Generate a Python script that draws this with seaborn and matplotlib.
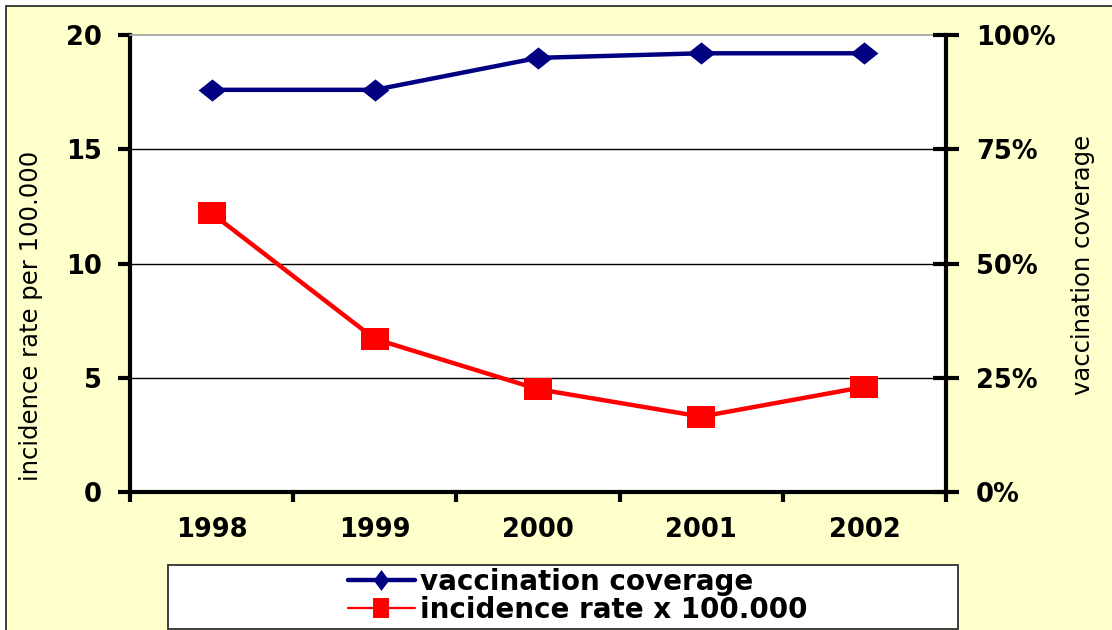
import numpy as np
import pandas as pd
import seaborn as sns
import matplotlib.pyplot as plt
from matplotlib.path import Path
from matplotlib.lines import Line2D
from matplotlib.patches import Rectangle
from matplotlib.ticker import PercentFormatter

# data
years = ["1998", "1999", "2000", "2001", "2002"]
incidence = [12.2, 6.7, 4.5, 3.3, 4.6]       # per 100.000
coverage = [88, 88, 95, 96, 96]               # percent

sns.set_theme(style="white")
plt.rcParams["font.family"] = ["DejaVu Sans"]
plt.rcParams["text.color"] = "black"
plt.rcParams["xtick.color"] = "black"
plt.rcParams["ytick.color"] = "black"

W, H = 1112, 630
fig = plt.figure(figsize=(W / 100, H / 100), dpi=100, facecolor="white")

# pale yellow chart area with thin dark frame
fig.patches.append(Rectangle((6 / W, -0.2), 2.0, 1 - 6 / H + 0.2,
                             transform=fig.transFigure, facecolor="#FFFFCC",
                             edgecolor="#202020", lw=1.2, zorder=-5))

ax = fig.add_axes([130 / W, 1 - 492 / H, 816 / W, 457 / H])
ax.set_facecolor("white")

df = pd.DataFrame({"pos": np.arange(len(years)), "year": years,
                   "incidence": incidence, "coverage": coverage})

closed = [Path.MOVETO, Path.LINETO, Path.LINETO, Path.LINETO, Path.CLOSEPOLY]
diamond = Path([(-1, 0), (0, 0.8), (1, 0), (0, -0.8), (-1, 0)], closed)
square = Path([(-1, -0.78), (1, -0.78), (1, 0.78), (-1, 0.78), (-1, -0.78)], closed)

sns.lineplot(data=df, x="pos", y="incidence", ax=ax, color="#FF0000", lw=3.2,
             marker=square, markersize=19.5, markeredgewidth=0, legend=False, zorder=3)

ax2 = ax.twinx()
sns.lineplot(data=df, x="pos", y="coverage", ax=ax2, color="#000080", lw=3.2,
             marker=diamond, markersize=20, markeredgewidth=0, legend=False, zorder=3)

ax.set_xlim(-0.5, len(years) - 0.5)
ax.set_ylim(0, 20)
ax2.set_ylim(0, 100)
ax.set_xlabel("")
ax.set_ylabel("")
ax2.set_ylabel("")

# y ticks and horizontal grid
yt = [0, 5, 10, 15, 20]
ax.set_yticks(yt)
ax.yaxis.grid(True, color="black", lw=1.0)
for gl, v in zip(ax.get_ygridlines(), yt):
    if v in (0, 20):
        gl.set_visible(False)
ax.set_axisbelow(True)

ax2.set_yticks([0, 25, 50, 75, 100])
ax2.yaxis.set_major_formatter(PercentFormatter(decimals=0))

# x ticks: labels at category centres, tick marks between categories
ax.set_xticks(df["pos"])
ax.set_xticklabels(years)
ax.set_xticks(np.arange(-0.5, len(years), 1.0), minor=True)

for lbl in ax.get_xticklabels() + ax.get_yticklabels() + ax2.get_yticklabels():
    lbl.set_fontsize(18.5)
    lbl.set_fontweight("bold")
    lbl.set_color("black")

ax.tick_params(axis="x", which="major", bottom=True, length=0, pad=18)
ax.tick_params(axis="x", which="minor", bottom=True, direction="out",
               length=7, width=3, color="black")
ax.tick_params(axis="y", left=True, direction="out", length=9, width=3,
               color="black", pad=11)
ax2.tick_params(axis="y", right=True, direction="inout", length=19, width=3,
                color="black", pad=12)

# spines
for s in ("left", "bottom"):
    ax.spines[s].set_color("black")
    ax.spines[s].set_linewidth(3)
ax.spines["top"].set_color("#A0A0A0")
ax.spines["top"].set_linewidth(1.2)
ax.spines["right"].set_visible(False)
for s in ("left", "bottom", "top"):
    ax2.spines[s].set_visible(False)
ax2.spines["right"].set_color("black")
ax2.spines["right"].set_linewidth(3)
ax2.patch.set_visible(False)

# axis titles
fig.text(31 / W, 1 - 316 / H, "incidence rate per 100.000", rotation=90,
         ha="center", va="center", fontsize=17.5, color="black")
fig.text(1083 / W, 1 - 265 / H, "vaccination coverage", rotation=90,
         ha="center", va="center", fontsize=17.5, color="black")

# legend box
fig.patches.append(Rectangle((168 / W, 1 - 629 / H), 790 / W, 64 / H,
                             transform=fig.transFigure, facecolor="white",
                             edgecolor="#303030", lw=1.3, zorder=1))
handles = [
    Line2D([], [], color="#000080", lw=3.2,
           marker=Path([(-0.75, 0), (0, 1), (0.75, 0), (0, -1), (-0.75, 0)], closed),
           markersize=15, markeredgewidth=0),
    Line2D([], [], color="#FF0000", lw=1.6,
           marker=Path([(-0.8, -1), (0.8, -1), (0.8, 1), (-0.8, 1), (-0.8, -1)], closed),
           markersize=14, markeredgewidth=0),
]
labels = ["vaccination coverage", "incidence rate x 100.000"]
leg = fig.legend(handles, labels, loc="center", bbox_to_anchor=(578 / W, 1 - 596 / H),
                 frameon=False, handlelength=2.4, handletextpad=0.2,
                 labelspacing=0.0, borderpad=0, labelcolor="black",
                 prop=dict(family="DejaVu Sans", weight="bold", size=20))
leg.set_zorder(2)

fig.savefig("out.png", dpi=100, facecolor=fig.get_facecolor())
